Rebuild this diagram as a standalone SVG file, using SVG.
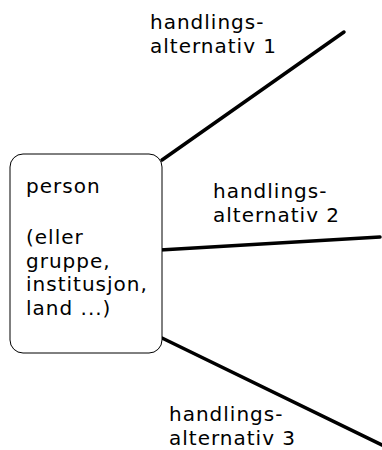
<svg xmlns="http://www.w3.org/2000/svg" width="382" height="450" viewBox="0 0 382 450">
<style>
text{font-family:"DejaVu Sans","Liberation Sans",sans-serif;font-size:20px;letter-spacing:1px;fill:#000}
.ln{stroke:#000;stroke-width:3.5;fill:none;stroke-linecap:round}
</style>
<rect width="382" height="450" fill="#fff"/>
<g id="connectors">
<line class="ln" x1="162" y1="160" x2="344" y2="32"/>
<line class="ln" x1="160" y1="250" x2="380" y2="237"/>
<line class="ln" x1="162" y1="338" x2="384" y2="446"/>
</g>
<g id="person">
<rect x="10" y="154" width="152" height="199" rx="13" ry="13" fill="#fff" stroke="#000" stroke-width="1"/>
<text x="26" y="193">person</text>
<text x="26" y="244">(eller</text>
<text x="26" y="267.5">gruppe,</text>
<text x="26" y="291">institusjon,</text>
<text x="26" y="314.5">land ...)</text>
</g>
<g id="alt1">
<text x="150" y="29">handlings-</text>
<text x="150" y="52.5">alternativ 1</text>
</g>
<g id="alt2">
<text x="213" y="198">handlings-</text>
<text x="213" y="221.5">alternativ 2</text>
</g>
<g id="alt3">
<text x="169" y="421">handlings-</text>
<text x="169" y="444.5">alternativ 3</text>
</g>
</svg>
